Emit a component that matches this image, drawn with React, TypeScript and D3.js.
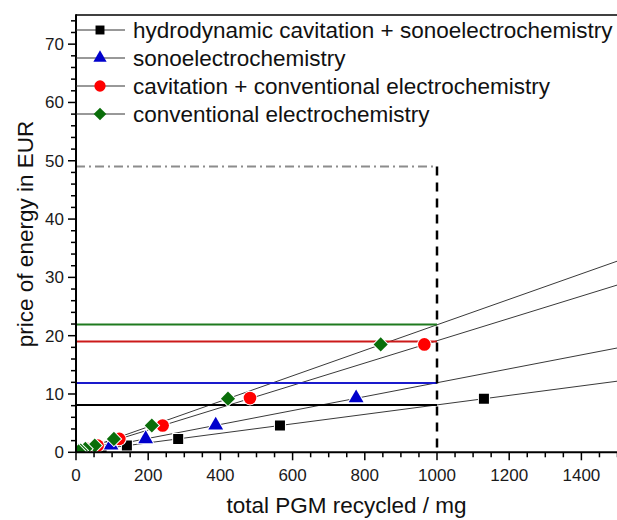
import React from "react";
import * as d3 from "d3";

// series (x in mg, y in EUR)
const seriesNames = [
  "hydrodynamic cavitation + sonoelectrochemistry",
  "sonoelectrochemistry",
  "cavitation + conventional electrochemistry",
  "conventional electrochemistry",
];
const seriesColors = ["#000000", "#0000cc", "#ff0000", "#0a6e0a"];
const lineColors = ["#000000", "#1a1acc", "#cc1a1a", "#1f7a1f"];
const seriesShapes = ["square", "triangle", "circle", "diamond"];

const xHydro = [1130, 565, 283, 141, 71, 35, 18, 9];
const yHydro = [9.2, 4.6, 2.3, 1.15, 0.58, 0.29, 0.15, 0.07];
const xSono = [776, 387, 193, 97, 48, 24, 12, 6];
const ySono = [9.3, 4.65, 2.3, 1.2, 0.6, 0.3, 0.15, 0.08];
const xCavConv = [965, 482, 240, 120, 60, 30, 15, 8];
const yCavConv = [18.5, 9.3, 4.6, 2.3, 1.15, 0.6, 0.3, 0.15];
const xConv = [844, 421, 210, 105, 52, 26, 13, 7];
const yConv = [18.5, 9.2, 4.6, 2.3, 1.15, 0.6, 0.3, 0.15];

const xSeries = [xHydro, xSono, xCavConv, xConv];
const ySeries = [yHydro, ySono, yCavConv, yConv];

// fitted lines: value at 1500 mg, and price level at 1000 mg
const fitAt1500 = [12.2, 17.9, 28.7, 32.8];
const priceAt1000 = [8.1, 11.9, 19.0, 21.9];
const budgetLevel = 49;
const budgetMass = 1000;

const xTicks = [0, 200, 400, 600, 800, 1000, 1200, 1400];
const yTicks = [0, 10, 20, 30, 40, 50, 60, 70];

const W = 617;
const H = 520;
const FONT = "'Liberation Sans', Arial, sans-serif";

const x = d3.scaleLinear().domain([0, 1500]).range([76, 617.5]);
const y = d3.scaleLinear().domain([0, 75]).range([452.3, 15]);

// diamond as a square turned 45deg (d3's diamond is too narrow)
const diamond = {
  draw(ctx: any, size: number) {
    const r = Math.sqrt(size / 2);
    ctx.moveTo(0, -r);
    ctx.lineTo(r, 0);
    ctx.lineTo(0, r);
    ctx.lineTo(-r, 0);
    ctx.closePath();
  },
};

const symbolPath = (shape: string, size: number) => {
  const t =
    shape === "square"
      ? d3.symbolSquare
      : shape === "triangle"
      ? d3.symbolTriangle
      : shape === "diamond"
      ? diamond
      : d3.symbolCircle;
  return d3.symbol().type(t as any).size(size)()!;
};
const markerSize: Record<string, number> = {
  square: 100,
  triangle: 95,
  circle: 125,
  diamond: 100,
};

const App = () => {
  const x0 = x.range()[0];
  const y0 = y.range()[0];
  const minorX = d3.range(0, 1501, 50).filter((v) => v % 200 !== 0);
  const minorY = d3.range(0, 75.1, 2).filter((v) => v % 10 !== 0);
  const line = d3
    .line<[number, number]>()
    .x((d) => x(d[0]))
    .y((d) => y(d[1]));

  return (
    <div style={{ position: "absolute", left: 0, top: 0 }}>
      <svg width={W} height={H} style={{ display: "block", background: "#fff" }}>
        <defs>
          <clipPath id="plot">
            <rect x={x0} y={y(75)} width={W - x0} height={y0 - y(75)} />
          </clipPath>
        </defs>

        <g clipPath="url(#plot)">
          {/* fit lines */}
          {fitAt1500.map((v, i) => (
            <path
              key={"fit" + i}
              d={line([
                [0, 0],
                [1500, v],
              ])!}
              stroke="#222"
              strokeWidth={0.9}
              fill="none"
            />
          ))}
          {/* price levels */}
          {priceAt1000.map((v, i) => (
            <path
              key={"lvl" + i}
              d={line([
                [0, v],
                [budgetMass, v],
              ])!}
              stroke={lineColors[i]}
              strokeWidth={2}
              fill="none"
            />
          ))}
          <path
            d={line([
              [0, budgetLevel],
              [budgetMass, budgetLevel],
            ])!}
            stroke="#8c8c8c"
            strokeWidth={2}
            strokeDasharray="9 4 2 4"
            fill="none"
          />
          <path
            d={line([
              [budgetMass, budgetLevel],
              [budgetMass, 0],
            ])!}
            stroke="#000"
            strokeWidth={2.5}
            strokeDasharray="9 7"
            fill="none"
          />
          {/* markers */}
          {xSeries.map((xs, i) =>
            xs.map((xv, j) => (
              <path
                key={"m" + i + "-" + j}
                d={symbolPath(seriesShapes[i], markerSize[seriesShapes[i]])}
                transform={`translate(${x(xv)},${y(ySeries[i][j])})`}
                fill={seriesColors[i]}
                stroke="#fff"
                strokeWidth={2}
                style={{ paintOrder: "stroke" }}
              />
            ))
          )}
        </g>

        {/* frame */}
        <line x1={x0} x2={W} y1={y(75)} y2={y(75)} stroke="#000" strokeWidth={1.5} />
        <line x1={x0} x2={x0} y1={y(75) - 0.75} y2={y0} stroke="#000" strokeWidth={2} />
        <line x1={x0} x2={W} y1={y0} y2={y0} stroke="#000" strokeWidth={2} />

        {/* x ticks */}
        {xTicks.map((t) => (
          <g key={"xt" + t}>
            <line x1={x(t)} x2={x(t)} y1={y0} y2={y0 + 8} stroke="#000" strokeWidth={1.5} />
            <text
              x={x(t)}
              y={y0 + 29}
              textAnchor="middle"
              fontFamily={FONT}
              fontSize={17}
              fill="#1a1a1a"
            >
              {t}
            </text>
          </g>
        ))}
        {minorX.map((t) => (
          <line key={"xm" + t} x1={x(t)} x2={x(t)} y1={y0} y2={y0 + 5} stroke="#000" strokeWidth={1.5} />
        ))}

        {/* y ticks */}
        {yTicks.map((t) => (
          <g key={"yt" + t}>
            <line x1={x0 - 8} x2={x0} y1={y(t)} y2={y(t)} stroke="#000" strokeWidth={1.5} />
            <text
              x={x0 - 12}
              y={y(t) + 6}
              textAnchor="end"
              fontFamily={FONT}
              fontSize={17}
              fill="#1a1a1a"
            >
              {t}
            </text>
          </g>
        ))}
        {minorY.map((t) => (
          <line key={"ym" + t} x1={x0 - 5} x2={x0} y1={y(t)} y2={y(t)} stroke="#000" strokeWidth={1.5} />
        ))}

        {/* axis titles */}
        <text
          x={346.5}
          y={513}
          textAnchor="middle"
          fontFamily={FONT}
          fontSize={22.5}
          fill="#111"
        >
          total PGM recycled / mg
        </text>
        <text
          transform={`translate(33,${234}) rotate(-90)`}
          textAnchor="middle"
          fontFamily={FONT}
          fontSize={22.5}
          fill="#111"
        >
          price of energy in EUR
        </text>

        {/* legend */}
        {seriesNames.map((name, i) => {
          const ly = 30 + i * 28;
          return (
            <g key={"lg" + i}>
              <line x1={x0} x2={125} y1={ly} y2={ly} stroke="#333" strokeWidth={1} />
              <path
                d={symbolPath(seriesShapes[i], markerSize[seriesShapes[i]] * 0.8)}
                transform={`translate(100,${ly})`}
                fill={seriesColors[i]}
              />
              <text x={133} y={ly + 8} fontFamily={FONT} fontSize={22.5} fill="#111">
                {name}
              </text>
            </g>
          );
        })}
      </svg>
    </div>
  );
};

export default App;
